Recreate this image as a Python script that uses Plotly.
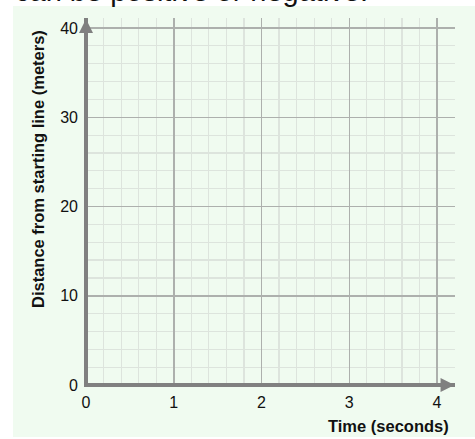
import plotly.graph_objects as go

# ---- data / labels ----
x_ticks = [0, 1, 2, 3, 4]
y_ticks = [0, 10, 20, 30, 40]
x_minor_step = 0.2
y_minor_step = 2
x_axis_end = 4.2     # where the x-axis arrow ends
y_axis_end = 41.0    # where the y-axis arrow ends
x_title = "Time (seconds)"
y_title = "Distance from starting line (meters)"
top_text = "can be positive or negative."

W, H = 475, 439
L, R, T, B = 84, 20, 18, 52
pw, ph = W - L - R, H - T - B
px_per_x = 87.75
px_per_y = 8.925
x_range = [-2 / px_per_x, -2 / px_per_x + pw / px_per_x]
y_range = [-2 / px_per_y, -2 / px_per_y + ph / px_per_y]

def paper_x(px):
    return (px - L) / pw

def paper_y(py):
    return (H - B - py) / ph

GREEN = "#f0fbf0"
AXIS = "#808080"
FONT = "Arial, Liberation Sans, sans-serif"

fig = go.Figure()

# arrowheads at the ends of the axes
fig.add_trace(go.Scatter(
    x=[0, x_axis_end], y=[y_axis_end, 0],
    mode="markers",
    marker=dict(symbol=["arrow-up", "arrow-right"], size=14, color=AXIS,
                line=dict(width=0)),
    cliponaxis=False, hoverinfo="skip", showlegend=False,
))

axis_common = dict(
    showgrid=True, gridcolor="#adb0ad", gridwidth=1.5,
    zeroline=True, zerolinecolor=AXIS, zerolinewidth=3.5,
    showline=False, ticks="",
    tickfont=dict(family=FONT, size=16, color="#111111"),
    fixedrange=True,
)

fig.update_xaxes(
    range=x_range, tickmode="array", tickvals=x_ticks,
    ticktext=[str(v) for v in x_ticks],
    minor=dict(dtick=x_minor_step, tick0=0, showgrid=True,
               gridcolor="#dde4dd", gridwidth=1.2),
    ticklabelstandoff=4,
    **axis_common,
)
fig.update_yaxes(
    range=y_range, tickmode="array", tickvals=y_ticks,
    ticktext=[str(v) for v in y_ticks],
    minor=dict(dtick=y_minor_step, tick0=0, showgrid=True,
               gridcolor="#dde4dd", gridwidth=1.2),
    ticklabelstandoff=5,
    **axis_common,
)

fig.add_shape(type="rect", xref="paper", yref="paper",
              x0=paper_x(13), x1=paper_x(W), y0=paper_y(437), y1=paper_y(6),
              fillcolor=GREEN, line=dict(width=0), layer="below")

fig.add_annotation(text=x_title, xref="paper", yref="paper",
                   x=paper_x(451), y=paper_y(426), xanchor="right", yanchor="middle",
                   showarrow=False,
                   font=dict(family=FONT, size=16.5, color="#111111", weight="bold"))
fig.add_annotation(text=y_title, xref="paper", yref="paper",
                   x=paper_x(38), y=paper_y(169), xanchor="center", yanchor="middle",
                   textangle=-90, showarrow=False,
                   font=dict(family=FONT, size=16.5, color="#111111", weight="bold"))
fig.add_annotation(text=top_text, xref="paper", yref="paper",
                   x=paper_x(13), y=paper_y(-9), xanchor="left", yanchor="middle",
                   showarrow=False,
                   font=dict(family=FONT, size=29, color="#111111"))

fig.update_layout(
    width=W, height=H,
    margin=dict(l=L, r=R, t=T, b=B, pad=0),
    paper_bgcolor="white", plot_bgcolor=GREEN,
    showlegend=False,
)

fig.write_html(
    "out.html",
    config={"displayModeBar": False, "staticPlot": True},
    post_script="document.body.style.margin='0';document.body.style.overflow='hidden';",
)
